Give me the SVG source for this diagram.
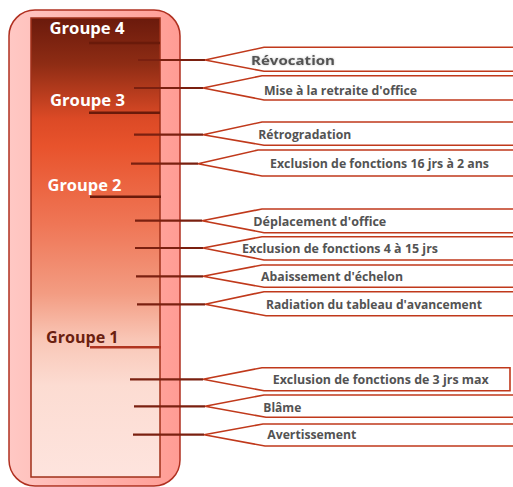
<svg xmlns="http://www.w3.org/2000/svg" width="513" height="487" viewBox="0 0 513 487">
<defs>
<linearGradient id="outerG" x1="0" y1="0" x2="1" y2="0">
<stop offset="0" stop-color="#ffc8c4"/>
<stop offset="1" stop-color="#ff9c94"/>
</linearGradient>
<linearGradient id="innerG" x1="0" y1="0" x2="0" y2="1">
<stop offset="0" stop-color="#6b1a0c"/>
<stop offset="0.1" stop-color="#8e2c14"/>
<stop offset="0.22" stop-color="#dc4a26"/>
<stop offset="0.28" stop-color="#e8532c"/>
<stop offset="0.45" stop-color="#ef7656"/>
<stop offset="0.6" stop-color="#f39c82"/>
<stop offset="0.7" stop-color="#f9c6b6"/>
<stop offset="0.8" stop-color="#fcdcd2"/>
<stop offset="1" stop-color="#fee4de"/>
</linearGradient>
<filter id="glow" x="-10%" y="-40%" width="120%" height="180%">
<feGaussianBlur in="SourceAlpha" stdDeviation="1.2" result="b"/>
<feFlood flood-color="#999999" flood-opacity="0.6"/>
<feComposite in2="b" operator="in" result="s"/>
<feMerge><feMergeNode in="s"/><feMergeNode in="SourceGraphic"/></feMerge>
</filter>
</defs>
<style>
.grp{font-family:"Open Sans","Liberation Sans",sans-serif;font-weight:700;font-size:16px;fill:#ffffff}
.lbl{font-family:"Open Sans","Liberation Sans",sans-serif;font-weight:700;font-size:11.6px;fill:#535353}
.ptr{fill:#ffffff;stroke:#c0391b;stroke-width:1.6}
.con{stroke:#7a2010;stroke-width:2.2;fill:none}
.ul{stroke:#6a1a0a;stroke-width:2.6;fill:none}
</style>
<g id="scale">
<rect x="9" y="10" width="171" height="476" rx="26" ry="26" fill="url(#outerG)" stroke="#b03020" stroke-width="1.5"/>
<rect x="31" y="18" width="129" height="459" fill="url(#innerG)" stroke="#a0301a" stroke-width="1.5"/>
</g>
<g id="groupe4"><text class="grp" x="49.5" y="34" textLength="75" lengthAdjust="spacingAndGlyphs">Groupe 4</text><line class="ul" x1="89" y1="43" x2="160" y2="43"/></g>
<g id="groupe3"><text class="grp" x="50" y="106" textLength="75" lengthAdjust="spacingAndGlyphs">Groupe 3</text><line class="ul" x1="89" y1="112.7" x2="160" y2="112.7"/></g>
<g id="groupe2"><text class="grp" x="47.5" y="191" textLength="74" lengthAdjust="spacingAndGlyphs">Groupe 2</text><line class="ul" x1="90" y1="196.7" x2="161" y2="196.7"/></g>
<g id="groupe1"><text class="grp" x="46" y="343" textLength="72.5" lengthAdjust="spacingAndGlyphs" style="fill:#6a2010">Groupe 1</text><line class="ul" x1="90" y1="347.3" x2="161" y2="347.3" style="stroke:#b03520"/></g>
<g id="connectors">
<line class="con" x1="138" y1="60" x2="205" y2="60"/>
<line class="con" x1="134" y1="88" x2="203" y2="88"/>
<line class="con" x1="134" y1="134.7" x2="203" y2="134.7"/>
<line class="con" x1="131" y1="163.7" x2="198" y2="163.7"/>
<line class="con" x1="135" y1="220.7" x2="202" y2="220.7"/>
<line class="con" x1="135" y1="248" x2="203" y2="248"/>
<line class="con" x1="136" y1="276.3" x2="203" y2="276.3"/>
<line class="con" x1="137" y1="304.3" x2="205" y2="304.3"/>
<line class="con" x1="130" y1="379.3" x2="203" y2="379.3"/>
<line class="con" x1="134" y1="406.3" x2="205" y2="406.3"/>
<line class="con" x1="133" y1="434.7" x2="204" y2="434.7"/>
</g>
<g id="revocation"><path class="ptr" d="M520 47.3 L264 47.3 L205 60 L264 71.3 L520 71.3"/><text class="lbl" x="251" y="65" textLength="84" lengthAdjust="spacingAndGlyphs" filter="url(#glow)">Révocation</text></g>
<g id="retraite"><path class="ptr" d="M520 75.7 L262 75.7 L203 88 L264 100 L520 100"/><text class="lbl" x="264" y="95" textLength="153" lengthAdjust="spacingAndGlyphs">Mise à la retraite d'office</text></g>
<g id="retrogradation"><path class="ptr" d="M520 122 L262 122 L203 134.7 L264 145.3 L520 145.3"/><text class="lbl" x="258.3" y="139" textLength="93" lengthAdjust="spacingAndGlyphs">Rétrogradation</text></g>
<g id="exclusion16"><path class="ptr" d="M520 150 L258 150 L198 163.7 L262 176 L520 176"/><text class="lbl" x="270" y="168" textLength="219" lengthAdjust="spacingAndGlyphs">Exclusion de fonctions 16 jrs à 2 ans</text></g>
<g id="deplacement"><path class="ptr" d="M520 209 L262 209 L202 220.7 L264 232.7 L520 232.7"/><text class="lbl" x="253.3" y="226" textLength="133" lengthAdjust="spacingAndGlyphs">Déplacement d'office</text></g>
<g id="exclusion4"><path class="ptr" d="M520 236.7 L262 236.7 L203 248 L264 260 L520 260"/><text class="lbl" x="242" y="253" textLength="196" lengthAdjust="spacingAndGlyphs">Exclusion de fonctions 4 à 15 jrs</text></g>
<g id="abaissement"><path class="ptr" d="M520 265 L262 265 L203 276.3 L264 287.3 L520 287.3"/><text class="lbl" x="261" y="281" textLength="142" lengthAdjust="spacingAndGlyphs">Abaissement d'échelon</text></g>
<g id="radiation"><path class="ptr" d="M520 291.7 L264 291.7 L205 304.3 L266 315.7 L520 315.7"/><text class="lbl" x="266" y="309" textLength="216" lengthAdjust="spacingAndGlyphs">Radiation du tableau d'avancement</text></g>
<g id="exclusion3"><path class="ptr" d="M510 367.7 L262 367.7 L203 379.3 L264 390.7 L510 390.7 Z"/><text class="lbl" x="272.7" y="384" textLength="216" lengthAdjust="spacingAndGlyphs">Exclusion de fonctions de 3 jrs max</text></g>
<g id="blame"><path class="ptr" d="M520 395 L264 395 L205 406.3 L266 417.3 L520 417.3"/><text class="lbl" x="263.3" y="411.5" textLength="38" lengthAdjust="spacingAndGlyphs">Blâme</text></g>
<g id="avertissement"><path class="ptr" d="M520 424 L263 424 L204 434.7 L265 446 L520 446"/><text class="lbl" x="267.3" y="438.7" textLength="89" lengthAdjust="spacingAndGlyphs">Avertissement</text></g>
</svg>
